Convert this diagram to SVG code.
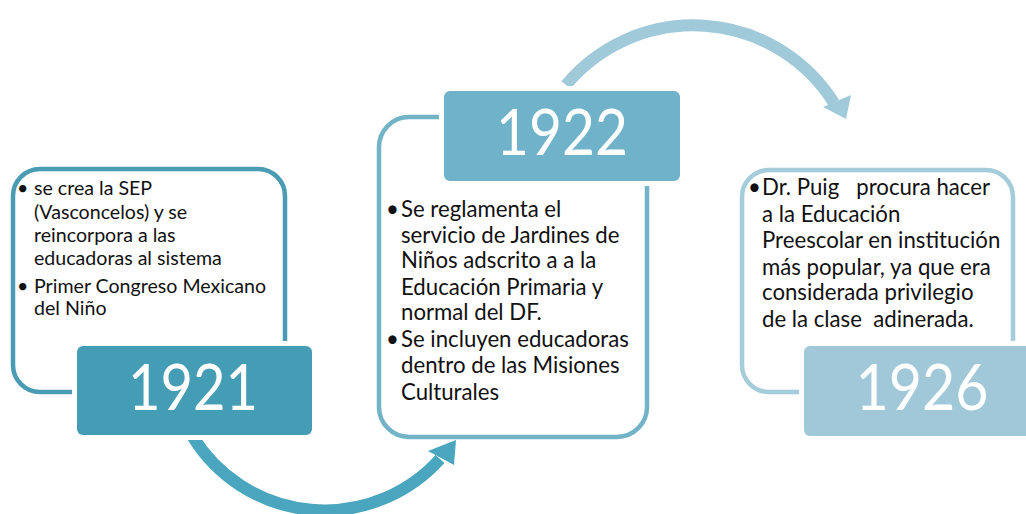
<svg xmlns="http://www.w3.org/2000/svg" width="1026" height="514" viewBox="0 0 1026 514">
<style>
.t{font-family:Lato,"Open Sans",sans-serif;fill:#111;}
.t1{font-size:19.6px;}
.t2{font-size:22.2px;}
.yr{font-family:Lato,"Open Sans",sans-serif;font-size:64px;fill:#fff;text-anchor:middle;}
.frame{fill:#fff;stroke-width:4.5;}
.tag{stroke:#fff;stroke-width:10;paint-order:stroke;}
</style>
<rect width="1026" height="514" fill="#fff"/>
<g id="connectors">
<g id="arrow1">
<path d="M193,437 A155,155 0 0 0 440,459" fill="none" stroke="#49A6BE" stroke-width="12"/>
<polygon points="428,451 456,440 454,465" fill="#49A6BE"/>
</g>
<g id="arrow2">
<path d="M566,85 A166,166 0 0 1 834,103" fill="none" stroke="#A0CAD9" stroke-width="12"/>
<polygon points="823,107 851,95 846,119" fill="#A0CAD9"/>
</g>
</g>
<g id="node-1921">
<rect class="frame" x="13" y="169" width="272" height="223" rx="27" stroke="#4A9BB4"/>
<rect class="tag" x="77" y="346" width="235" height="89" rx="6" fill="#459DB5"/>
<text class="yr" x="193" y="410" textLength="130" lengthAdjust="spacingAndGlyphs">1921</text>
<g class="t t1">
<text x="17" y="195">•</text><text x="34" y="195">se crea la SEP</text>
<text x="34" y="219">(Vasconcelos) y se</text>
<text x="34" y="242">reincorpora a las</text>
<text x="34" y="265">educadoras al sistema</text>
<text x="17" y="293">•</text><text x="34" y="293">Primer Congreso Mexicano</text>
<text x="34" y="315">del Niño</text>
</g>
</g>
<g id="node-1922">
<rect class="frame" x="379" y="117" width="268" height="320" rx="30" stroke="#72B3C8"/>
<rect class="tag" x="444" y="91" width="236" height="90" rx="6" fill="#6FB2C9"/>
<text class="yr" x="562" y="155" textLength="132" lengthAdjust="spacingAndGlyphs">1922</text>
<g class="t t2">
<text x="386" y="217">•</text><text x="401" y="217">Se reglamenta el</text>
<text x="401" y="243">servicio de Jardines de</text>
<text x="401" y="268">Niños adscrito a a la</text>
<text x="401" y="295">Educación Primaria y</text>
<text x="401" y="320">normal del DF.</text>
<text x="386" y="347">•</text><text x="401" y="347">Se incluyen educadoras</text>
<text x="401" y="373">dentro de las Misiones</text>
<text x="401" y="400">Culturales</text>
</g>
</g>
<g id="node-1926">
<rect class="frame" x="742" y="170" width="271" height="222" rx="27" stroke="#A5CCDA"/>
<rect class="tag" x="804" y="346" width="230" height="90" rx="6" fill="#A0C8D8"/>
<text class="yr" x="922" y="410" textLength="133" lengthAdjust="spacingAndGlyphs">1926</text>
<g class="t t2">
<text x="748" y="195">•</text><text x="762" y="195" xml:space="preserve">Dr. Puig   procura hacer</text>
<text x="762" y="222">a la Educación</text>
<text x="762" y="248">Preescolar en institución</text>
<text x="762" y="275">más popular, ya que era</text>
<text x="762" y="300">considerada privilegio</text>
<text x="762" y="327" xml:space="preserve">de la clase  adinerada.</text>
</g>
</g>
</svg>
